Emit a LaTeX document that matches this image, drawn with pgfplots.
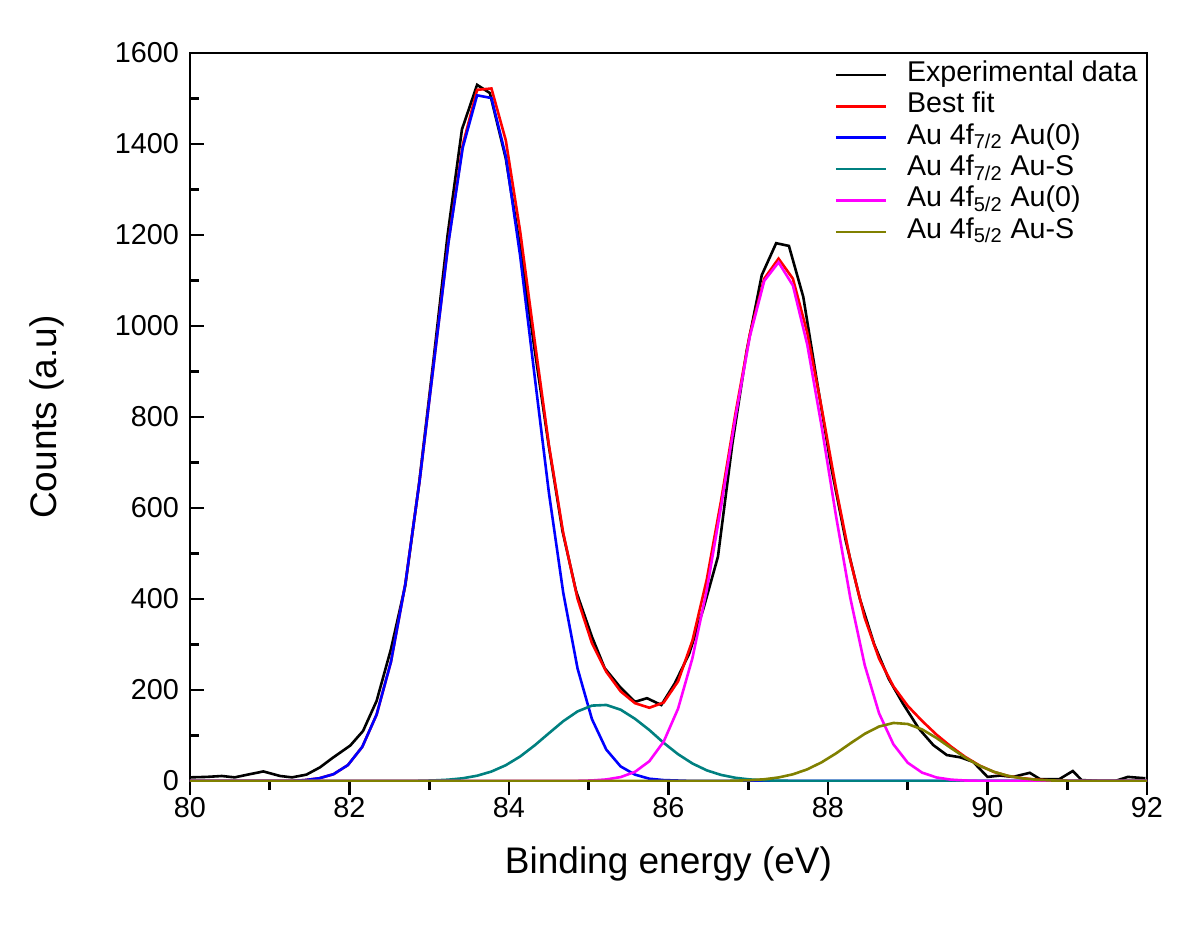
\documentclass[border=0pt]{standalone}
\usepackage{fontspec}
\setmainfont{Liberation Sans}
\usepackage{pgfplots}
\usepackage{pgfplotstable}
\pgfplotsset{compat=1.18}

\pgfplotstableread{
x y
80.00 8
80.21 9
80.40 11
80.56 8
80.75 15
80.92 21
81.13 11
81.28 8
81.46 14
81.63 30
81.79 51
82.01 78
82.17 110
82.34 176
82.52 290
82.70 430
82.87 650
83.05 920
83.23 1200
83.41 1432
83.60 1530
83.76 1512
83.96 1368
84.14 1172
84.32 950
84.50 735
84.67 550
84.84 418
85.04 317
85.20 248
85.39 207
85.58 174
85.73 182
85.91 167
86.08 215
86.26 280
86.44 380
86.62 493
86.80 740
86.98 945
87.17 1112
87.35 1182
87.51 1176
87.69 1064
87.86 880
88.04 690
88.22 530
88.40 400
88.58 300
88.76 225
88.94 170
89.14 115
89.32 79
89.49 57
89.66 52
89.82 42
90.00 9
90.16 12
90.32 9
90.53 18
90.66 4
90.90 4
91.07 22
91.18 2
91.43 0
91.60 0
91.76 9
91.98 6
}\expdata

\pgfplotstableread{
x blue teal magenta olive fit
80.00 0 0 0 0 0
80.18 0 0 0 0 0
80.36 0 0 0 0 0
80.54 0 0 0 0 0
80.72 0 0 0 0 0
80.90 0 0 0 0 0
81.08 0 0 0 0 0
81.26 0 0 0 0 0
81.44 2 0 0 0 2
81.62 6 0 0 0 6
81.80 15 0 0 0 15
81.98 35 0 0 0 35
82.16 75 0 0 0 75
82.34 146 0 0 0 146
82.52 262 0 0 0 262
82.70 433 0 0 0 433
82.88 661 0.5 0 0 661.5
83.06 922 1.3 0 0 923
83.24 1182 2.9 0 0 1185
83.42 1392 6.0 0 0 1398
83.60 1507 11.6 0 0 1519
83.78 1501 20.8 0 0 1522
83.96 1373 34.7 0 0 1408
84.14 1154 53.9 0 0 1208
84.32 892 78.0 0 0 970
84.50 634 104.9 0 0 739
84.68 414 131.4 0 0 545
84.86 247 153.0 0.4 0 400
85.04 136 165.7 1.2 0 303
85.22 69 167.1 3.4 0 240
85.40 32 156.7 8.6 0 197
85.58 14 136.7 20.1 0 171
85.76 5 112.0 43.5 0 161
85.94 2 83.8 86.7 0 172.5
86.12 1 58.9 159 0 219
86.30 0 38.5 270 0 308.5
86.48 0 23.4 420 0 443
86.66 0 13.3 604 0 617
86.84 0 7.0 800 0.7 808
87.02 0 3.4 977 1.7 982
87.20 0 1.6 1099 3.8 1104
87.38 0 0.7 1140 7.8 1148
87.56 0 0.3 1089 14.7 1104
87.74 0 0 959 25.6 985
87.92 0 0 779 41.1 820
88.10 0 0 583 60.6 644
88.28 0 0 402 82.6 485
88.46 0 0 255 103.6 359
88.64 0 0 149 119.7 269
88.82 0 0 80.7 127.6 208
89.00 0 0 40.1 125.3 165
89.18 0 0 18.4 113.4 132
89.36 0 0 7.8 94.6 102
89.54 0 0 3.0 72.7 76
89.72 0 0 1.1 51.5 53
89.90 0 0 0.3 33.6 34
90.08 0 0 0 20.2 20
90.26 0 0 0 11.2 11
90.44 0 0 0 5.7 6
90.62 0 0 0 2.7 3
90.80 0 0 0 1.2 1
90.98 0 0 0 0.5 0.5
91.16 0 0 0 0 0
91.34 0 0 0 0 0
91.52 0 0 0 0 0
91.70 0 0 0 0 0
91.88 0 0 0 0 0
92.06 0 0 0 0 0
}\fitdata

\definecolor{cteal}{RGB}{0,128,128}
\definecolor{colive}{RGB}{128,128,0}
\definecolor{cmag}{RGB}{255,0,255}
\definecolor{cred}{RGB}{255,0,0}
\definecolor{cblue}{RGB}{0,0,255}

\begin{document}
\begin{tikzpicture}
\useasboundingbox (-95pt,-78.5pt) rectangle (505pt,390.5pt);
\begin{axis}[
  at={(0,0)}, anchor=south west,
  width=478.5pt, height=364pt, scale only axis,
  xmin=80, xmax=92, ymin=0, ymax=1600,
  xtick={80,82,...,92}, minor xtick={81,83,...,91},
  ytick={0,200,...,1600}, minor ytick={100,300,...,1500},
  tick pos=left,
  xtick align=outside, ytick align=inside,
  major tick length=7pt, minor tick length=4.5pt,
  every tick/.style={black, line width=1.3pt},
  axis line style={line width=1.4pt},
  /pgf/number format/assume math mode=true,
  /pgf/number format/1000 sep={},
  tick label style={font=\fontsize{14.4}{16}\selectfont},
  yticklabel style={xshift=-2pt},
  xticklabel style={yshift=2.5pt},
  label style={font=\fontsize{18.5}{21}\selectfont},
  xlabel={Binding energy (eV)},
  ylabel={Counts (a.u)},
  xlabel style={at={(axis description cs:0.5,-0.114)}, anchor=center},
  ylabel style={at={(axis description cs:-0.149,0.5)}, anchor=center},
  legend cell align=left,
  legend image code/.code={\draw[#1] (0pt,0pt) -- (25pt,0pt);},
  legend style={draw=none, fill=none, at={(0.673,0.992)}, anchor=north west,
    inner sep=0pt, row sep=0pt, column sep=10pt,
    font=\fontsize{14.3}{16}\selectfont,
    nodes={text height=11pt, text depth=4.7pt, inner sep=0pt}},
  every axis plot/.append style={line width=1.3pt},
]
\addplot[black, mark=none] table[x=x,y=y] {\expdata};
\addlegendentry{Experimental data}
\addplot[cred, mark=none] table[x=x,y=fit] {\fitdata};
\addlegendentry{Best fit}
\addplot[cblue, mark=none] table[x=x,y=blue] {\fitdata};
\addlegendentry{Au 4f\textsubscript{7/2} Au(0)}
\addplot[cteal, mark=none] table[x=x,y=teal] {\fitdata};
\addlegendentry{Au 4f\textsubscript{7/2} Au-S}
\addplot[cmag, mark=none] table[x=x,y=magenta] {\fitdata};
\addlegendentry{Au 4f\textsubscript{5/2} Au(0)}
\addplot[colive, mark=none] table[x=x,y=olive] {\fitdata};
\addlegendentry{Au 4f\textsubscript{5/2} Au-S}
\end{axis}
\end{tikzpicture}
\end{document}
